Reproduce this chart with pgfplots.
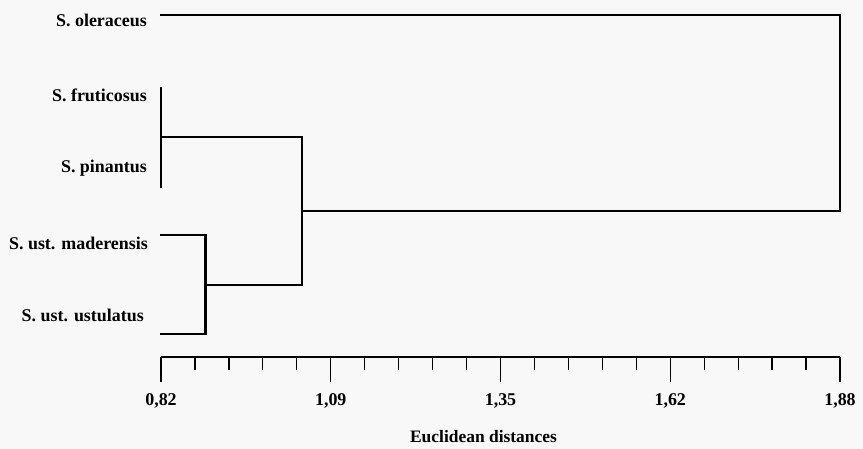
\documentclass[border=0pt]{standalone}
\usepackage{fontspec}
\setmainfont{Liberation Serif}
\usepackage{pgfplots}
\pgfplotsset{compat=1.18}
\definecolor{paper}{RGB}{248,248,248}
\tikzset{dendro/.style={black, line width=2.8bp, line cap=rect, line join=miter}}
\begin{document}
\begin{tikzpicture}
\fill[paper] (-161bp,-92bp) rectangle (702bp,357bp);
\path[use as bounding box] (-161bp,-92bp) rectangle (702bp,357bp);
\begin{axis}[
  at={(0,0)}, anchor=south west,
  scale only axis, width=679bp, height=357bp,
  xmin=0.82, xmax=1.88, ymin=0, ymax=357, y dir=reverse,
  clip=false,
  axis x line*=bottom, axis y line=none,
  x axis line style={line width=1.4bp, -},
  xtick={0.82,1.085,1.35,1.615,1.88},
  xticklabels={{0,82},{1,09},{1,35},{1,62},{1,88}},
  minor xtick={0.873,0.926,0.979,1.032,1.138,1.191,1.244,1.297,1.403,1.456,1.509,1.562,1.668,1.721,1.774,1.827},
  tick align=outside,
  major tick length=25bp, minor tick length=13bp,
  every tick/.style={line width=1.3bp, black},
  /pgf/number format/assume math mode=true,
  font=\fontsize{18}{20}\selectfont\bfseries,
  xticklabel style={font=\fontsize{18}{20}\selectfont\bfseries, yshift=-8bp},
  xlabel={Euclidean distances},
  xlabel style={font=\fontsize{17.5}{20}\selectfont\bfseries, inner sep=1bp, xshift=-17bp, yshift=-18bp},
  no markers,
]
% root: S. oleraceus joins the rest
\addplot[dendro] coordinates {(0.82,15) (1.88,15) (1.88,211) (1.04,211)};
% S. fruticosus + S. pinantus
\addplot[dendro] coordinates {(0.82,88) (0.82,187)};
\addplot[dendro] coordinates {(0.82,137) (1.04,137)};
% join of the two clusters
\addplot[dendro] coordinates {(1.04,137) (1.04,285)};
% S. ust. maderensis + S. ust. ustulatus
\addplot[dendro] coordinates {(0.82,235) (0.89,235) (0.89,334) (0.82,334)};
\addplot[dendro] coordinates {(0.89,285) (1.04,285)};
% leaf labels
\begin{scope}[every node/.style={anchor=east, font=\fontsize{18}{20}\selectfont\bfseries, inner sep=0pt}]
\node at (axis cs:0.82,20) [xshift=-14bp] {S. oleraceus};
\node at (axis cs:0.82,95) [xshift=-14bp] {S. fruticosus};
\node at (axis cs:0.82,168) [xshift=-14bp] {S. pinantus};
\node at (axis cs:0.82,243) [xshift=-13bp] {S. ust. maderensis};
\node at (axis cs:0.82,315) [xshift=-17bp] {S. ust. ustulatus};
\end{scope}
\end{axis}
\end{tikzpicture}
\end{document}
